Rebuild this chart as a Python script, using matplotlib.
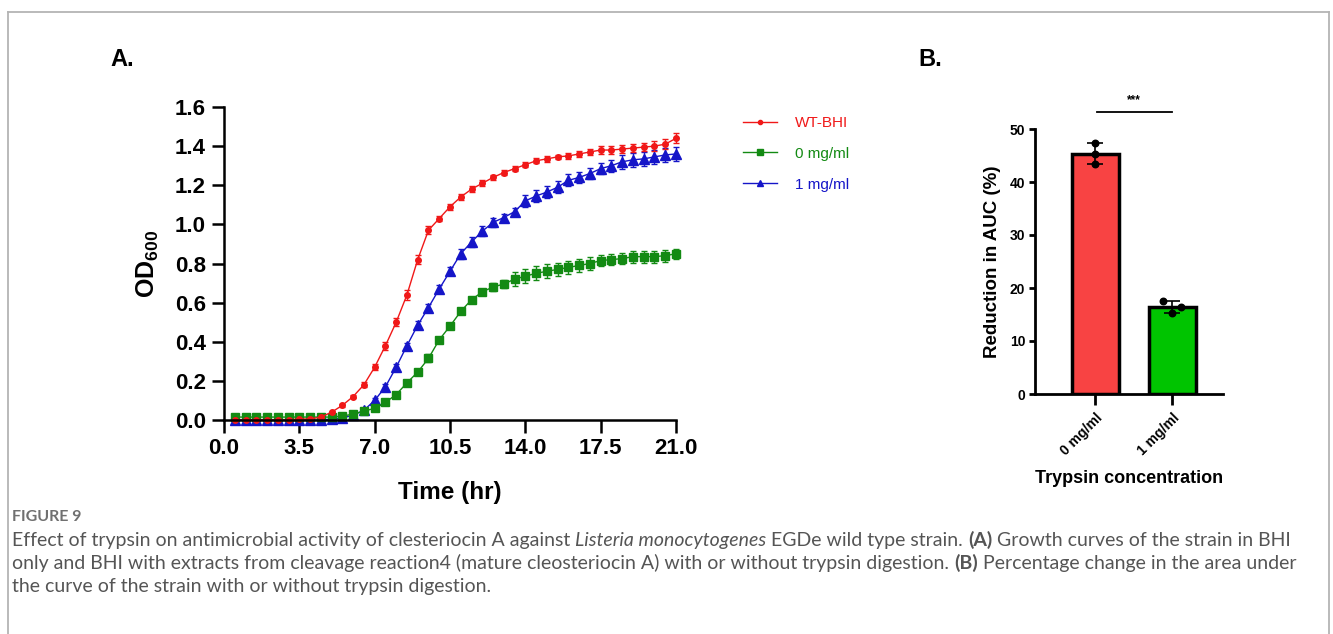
import numpy as np
import matplotlib
matplotlib.use("Agg")
import matplotlib.pyplot as plt
from matplotlib.lines import Line2D

# ---- panel A: growth curves (OD600 vs time) ----
time_hr = np.arange(0.5, 21.01, 0.5)

wt_bhi = [0.0, 0.0, 0.0, 0.0, 0.0, 0.0, 0.005, 0.005,
          0.015, 0.04, 0.075, 0.12, 0.18, 0.27, 0.38, 0.50, 0.64, 0.82,
          0.97, 1.03, 1.09, 1.14, 1.18, 1.21, 1.24, 1.265, 1.285, 1.305,
          1.325, 1.335, 1.345, 1.35, 1.36, 1.37, 1.38, 1.38, 1.385, 1.39,
          1.395, 1.40, 1.41, 1.44]
wt_bhi_sd = [0.003] * 8 + [
    0.005, 0.006, 0.008, 0.01, 0.012, 0.015, 0.02, 0.02, 0.025, 0.025,
    0.02, 0.015, 0.015, 0.015, 0.015, 0.015, 0.012, 0.012, 0.012, 0.012,
    0.012, 0.015, 0.012, 0.015, 0.015, 0.015, 0.02, 0.02, 0.02, 0.02,
    0.02, 0.025, 0.025, 0.025]

trypsin_0 = [0.015] * 10 + [
    0.02, 0.03, 0.045, 0.06, 0.09, 0.13, 0.19, 0.245, 0.315, 0.41,
    0.48, 0.555, 0.615, 0.655, 0.68, 0.695, 0.72, 0.735, 0.75, 0.76,
    0.77, 0.78, 0.79, 0.80, 0.815, 0.82, 0.825, 0.835, 0.835, 0.835,
    0.84, 0.85]
trypsin_0_sd = [0.006] * 10 + [
    0.006, 0.006, 0.008, 0.008, 0.01, 0.01, 0.012, 0.015, 0.02, 0.015,
    0.012, 0.012, 0.012, 0.015, 0.02, 0.02, 0.035, 0.035, 0.035, 0.035,
    0.035, 0.035, 0.035, 0.035, 0.03, 0.03, 0.03, 0.03, 0.03, 0.03,
    0.03, 0.025]

trypsin_1 = [0.0] * 9 + [0.005, 0.01] + [
    0.025, 0.05, 0.10, 0.17, 0.27, 0.38, 0.485, 0.575, 0.67, 0.76,
    0.85, 0.91, 0.965, 1.01, 1.035, 1.065, 1.12, 1.145, 1.165, 1.19,
    1.225, 1.24, 1.26, 1.285, 1.30, 1.32, 1.33, 1.335, 1.345, 1.355,
    1.36]
trypsin_1_sd = [0.004] * 11 + [
    0.006, 0.008, 0.01, 0.012, 0.015, 0.015, 0.02, 0.02, 0.02, 0.02,
    0.025, 0.025, 0.025, 0.025, 0.02, 0.02, 0.03, 0.03, 0.03, 0.03,
    0.03, 0.03, 0.03, 0.03, 0.03, 0.035, 0.035, 0.035, 0.035, 0.035,
    0.035]

series_labels = ["WT-BHI", "0 mg/ml", "1 mg/ml"]

# ---- panel B: reduction in AUC ----
auc_groups = ["0 mg/ml", "1 mg/ml"]
auc_reps = [[47.3, 45.3, 43.4], [17.6, 16.5, 15.3]]

# ---- caption ----
caption_lines = [
    [("Effect of trypsin on antimicrobial activity of clesteriocin A against", "n"),
     ("Listeria monocytogenes", "i"), ("EGDe wild type strain.", "n"),
     ("(A)", "b"), ("Growth curves of the strain in BHI", "n")],
    [("only and BHI with extracts from cleavage reaction4 (mature cleosteriocin A) "
      "with or without trypsin digestion.", "n"),
     ("(B)", "b"), ("Percentage change in the area under", "n")],
    [("the curve of the strain with or without trypsin digestion.", "n")],
]

W, H = 1333, 634
RED, GREEN, BLUE = "#f01818", "#138a13", "#1515c8"
BOLD = dict(family="Liberation Sans", weight="bold")

fig = plt.figure(figsize=(W / 100, H / 100), dpi=100)


def px_axes(left, top, right, bottom):
    return fig.add_axes([left / W, 1 - bottom / H, (right - left) / W, (bottom - top) / H])


# ---------------- panel A ----------------
axA = px_axes(224, 107, 676, 420)
curves = [
    (trypsin_1, trypsin_1_sd, BLUE, "^", 6.5),
    (trypsin_0, trypsin_0_sd, GREEN, "s", 6),
    (wt_bhi, wt_bhi_sd, RED, "o", 4),
]
for y, sd, c, m, ms in curves:
    axA.errorbar(time_hr, y, yerr=sd, color=c, marker=m, ms=ms, lw=1,
                 elinewidth=1, capsize=2.5, capthick=1, clip_on=False)

axA.set_xlim(0, 21)
axA.set_ylim(0, 1.6)
axA.set_xticks(np.arange(0, 21.01, 3.5))
axA.set_yticks(np.arange(0, 1.61, 0.2))
axA.set_xticklabels([f"{v:.1f}" for v in np.arange(0, 21.01, 3.5)])
axA.set_yticklabels([f"{v:.1f}" for v in np.arange(0, 1.61, 0.2)])
for s in ["top", "right"]:
    axA.spines[s].set_visible(False)
for s in ["left", "bottom"]:
    axA.spines[s].set_linewidth(1.8)
axA.tick_params(length=9, width=1.8, pad=4, labelsize=16)
for lab in axA.get_xticklabels() + axA.get_yticklabels():
    lab.set_fontproperties(dict(BOLD, size=16))
axA.set_xlabel("Time (hr)", fontsize=17.5, labelpad=16, **BOLD)
axA.set_ylabel(r"OD$_{\mathdefault{600}}$", fontsize=18, labelpad=10, **BOLD)

handles = [
    Line2D([], [], color=RED, marker="o", ms=3, lw=1),
    Line2D([], [], color=GREEN, marker="s", ms=5, lw=1),
    Line2D([], [], color=BLUE, marker="^", ms=5, lw=1),
]
fig.legend(handles, series_labels, loc="upper left",
           bbox_to_anchor=(743 / W, 1 - 116 / H), frameon=False,
           prop=dict(family="Liberation Sans", size=11),
           labelcolor="linecolor", handlelength=2.2, handletextpad=1.2,
           labelspacing=1.1, borderpad=0, borderaxespad=0)

# ---------------- panel B ----------------
axB = px_axes(1035, 129, 1223, 394)
means = [np.mean(r) for r in auc_reps]
sds = [np.std(r, ddof=1) for r in auc_reps]
xpos = np.arange(len(auc_groups))
axB.bar(xpos, means, width=0.61, color=["#f84343", "#00c400"],
        edgecolor="black", linewidth=2.5, zorder=2)
axB.errorbar(xpos, means, yerr=sds, fmt="none", ecolor="black",
             elinewidth=1.2, capsize=6, capthick=1.2, zorder=3)
jitter = [[0.0, 0.0, 0.0], [-0.12, 0.12, 0.0]]
for i, reps in enumerate(auc_reps):
    axB.scatter(i + np.array(jitter[i]), reps, s=22, color="black", zorder=4)

axB.set_xlim(-0.78, 1.66)
axB.set_ylim(0, 50)
axB.set_yticks(range(0, 51, 10))
axB.set_xticks(xpos)
axB.set_xticklabels(auc_groups, rotation=45, ha="right", rotation_mode="anchor")
for s in ["top", "right"]:
    axB.spines[s].set_visible(False)
for s in ["left", "bottom"]:
    axB.spines[s].set_linewidth(2)
axB.tick_params(axis="y", length=4, width=2, pad=3)
axB.tick_params(axis="x", length=8, width=2, pad=4)
for lab in axB.get_xticklabels() + axB.get_yticklabels():
    lab.set_fontproperties(dict(BOLD, size=10))
axB.set_xlabel("Trypsin concentration", fontsize=13, labelpad=9, **BOLD)
axB.set_ylabel("Reduction in AUC (%)", fontsize=13.5, labelpad=6, **BOLD)

# significance bracket
axB.plot([0.03, 1.0], [53.2, 53.2], color="black", lw=1.3, clip_on=False)
axB.text(0.5, 54.3, "***", ha="center", va="bottom", fontsize=8.5, clip_on=False, **BOLD)

# panel letters
fig.text(122 / W, 1 - 59 / H, "A.", ha="center", va="center", fontsize=17, **BOLD)
fig.text(930 / W, 1 - 59 / H, "B.", ha="center", va="center", fontsize=17, **BOLD)

# ---------------- caption ----------------
renderer = fig.canvas.get_renderer()
CAP_SIZE = 14


def text_width(s, **kw):
    t = fig.text(0, 0, s, fontsize=CAP_SIZE, family="Lato", **kw)
    w = t.get_window_extent(renderer=renderer).width
    t.remove()
    return w


space_w = text_width("x x") - text_width("xx")

fig.text(12 / W, 1 - 521 / H, "FIGURE 9", fontsize=11.5, family="Lato",
         weight="bold", color="#707070", va="baseline")

for row, runs in enumerate(caption_lines):
    x = 12
    y = 546 + row * 23
    for s, st in runs:
        kw = dict(fontsize=CAP_SIZE, family="Lato", color="#555555", va="baseline")
        if st == "b":
            kw["weight"] = "bold"
        if st == "i":
            kw["style"] = "italic"
        t = fig.text(x / W, 1 - y / H, s, **kw)
        x += t.get_window_extent(renderer=renderer).width + space_w

# outer frame (no bottom edge)
frame = dict(color="#b4b4b4", lw=1.3, transform=fig.transFigure)
fig.add_artist(Line2D([8 / W, 8 / W], [0, 1 - 12 / H], **frame))
fig.add_artist(Line2D([8 / W, 1329 / W], [1 - 12 / H, 1 - 12 / H], **frame))
fig.add_artist(Line2D([1329 / W, 1329 / W], [0, 1 - 12 / H], **frame))

fig.savefig("out.png", dpi=100)
